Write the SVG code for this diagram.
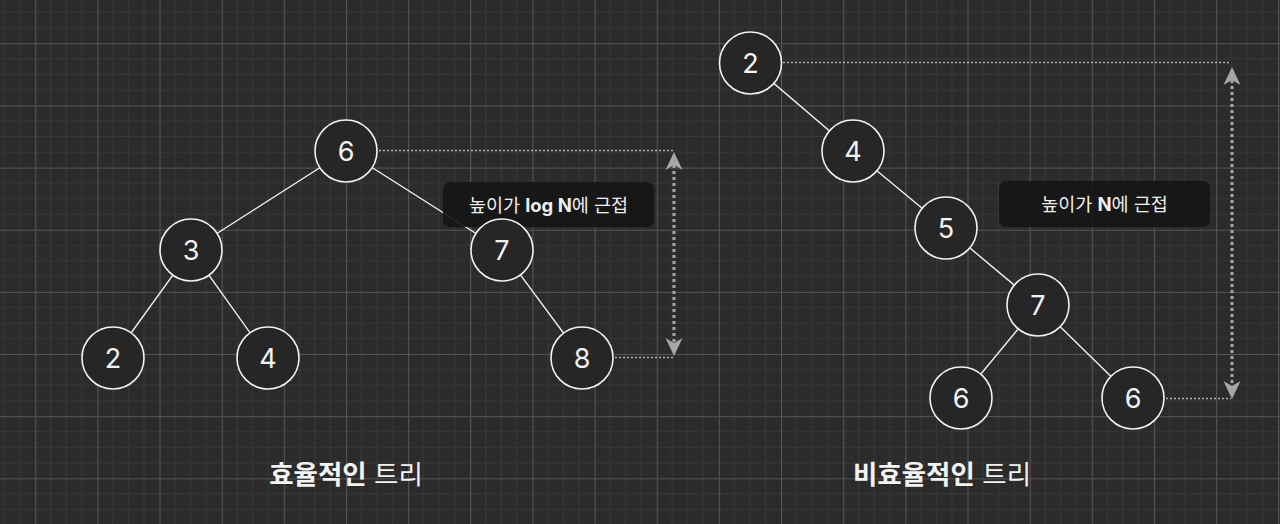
<svg xmlns="http://www.w3.org/2000/svg" width="1280" height="524" viewBox="0 0 1280 524">
  <defs>
    <pattern id="grid" patternUnits="userSpaceOnUse" x="35.2" y="43.3" width="62.15" height="62.15">
      <g stroke="#363636" stroke-width="1.2">
        <line x1="15.54" y1="0" x2="15.54" y2="62.15"/>
        <line x1="31.08" y1="0" x2="31.08" y2="62.15"/>
        <line x1="46.61" y1="0" x2="46.61" y2="62.15"/>
        <line x1="0" y1="15.54" x2="62.15" y2="15.54"/>
        <line x1="0" y1="31.08" x2="62.15" y2="31.08"/>
        <line x1="0" y1="46.61" x2="62.15" y2="46.61"/>
      </g>
      <g stroke="#555555" stroke-width="1.2">
        <line x1="0.5" y1="0" x2="0.5" y2="62.15"/>
        <line x1="0" y1="0.5" x2="62.15" y2="0.5"/>
      </g>
    </pattern>
    <marker id="ah" viewBox="0 0 20 20" refX="5" refY="10" markerWidth="20" markerHeight="20" markerUnits="userSpaceOnUse" orient="auto-start-reverse">
      <path d="M18 10 L0 1.5 L5 10 L0 18.5 Z" fill="#a6a6a8"/>
    </marker>
  </defs>
  <style>
    .node circle { fill: #262626; stroke: #f2f2f2; stroke-width: 1.6; }
    .node text { fill: #f2f2f2; font-family: Inter, "Noto Sans", "Noto Sans CJK KR", sans-serif; font-size: 27px; text-anchor: middle; dominant-baseline: central; }
    .edge { stroke: #f0f0f0; stroke-width: 1.4; }
    .guide { stroke: #b0b0b0; stroke-width: 1.5; stroke-dasharray: 2 2; fill: none; }
    .arrow { stroke: #a6a6a8; stroke-width: 3; stroke-dasharray: 3 3; fill: none; }
    .box { fill: #161616; fill-opacity: 0.92; }
    .lbl { fill: #eeeeee; font-family: Inter, "Noto Sans CJK KR", sans-serif; font-size: 18.5px; text-anchor: middle; dominant-baseline: central; }
    .title { fill: #f2f2f2; font-family: Inter, "Noto Sans CJK KR", sans-serif; font-size: 26.5px; text-anchor: middle; dominant-baseline: central; }
    .b { font-weight: 700; }
  </style>
  <rect width="1280" height="524" fill="#2b2b2b"/>
  <rect width="1280" height="524" fill="url(#grid)"/>

  <g id="connectors">
    <line class="edge" x1="346" y1="151" x2="191" y2="250"/>
    <line class="edge" x1="346" y1="151" x2="502" y2="250"/>
    <line class="edge" x1="191" y1="250" x2="113" y2="358"/>
    <line class="edge" x1="191" y1="250" x2="268" y2="358"/>
    <line class="edge" x1="502" y1="250" x2="582" y2="358"/>
    <line class="edge" x1="750" y1="63" x2="853" y2="151"/>
    <line class="edge" x1="853" y1="151" x2="946" y2="228"/>
    <line class="edge" x1="946" y1="228" x2="1038" y2="305"/>
    <line class="edge" x1="1038" y1="305" x2="961" y2="398"/>
    <line class="edge" x1="1038" y1="305" x2="1133" y2="398"/>
    <line class="guide" x1="379" y1="150.5" x2="673" y2="150.5"/>
    <line class="guide" x1="615" y1="357.5" x2="673" y2="357.5"/>
    <line class="arrow" x1="674" y1="165" x2="674" y2="343" marker-start="url(#ah)" marker-end="url(#ah)"/>
    <line class="guide" x1="783" y1="62.5" x2="1231" y2="62.5"/>
    <line class="guide" x1="1166" y1="398.5" x2="1231" y2="398.5"/>
    <line class="arrow" x1="1232" y1="80" x2="1232" y2="386" marker-start="url(#ah)" marker-end="url(#ah)"/>
  </g>

  <g id="label-left">
    <rect class="box" x="443" y="182" width="211" height="45" rx="7"/>
    <text class="lbl" x="548.5" y="204.5">높이가 <tspan class="b">log N</tspan>에 근접</text>
  </g>
  <g id="label-right">
    <rect class="box" x="999" y="181" width="211" height="46" rx="7"/>
    <text class="lbl" x="1104.5" y="204">높이가 <tspan class="b">N</tspan>에 근접</text>
  </g>

  <g id="n-l6" class="node"><circle cx="346" cy="151" r="31"/><text x="346" y="151">6</text></g>
  <g id="n-l3" class="node"><circle cx="191" cy="250" r="31"/><text x="191" y="250">3</text></g>
  <g id="n-l7" class="node"><circle cx="502" cy="250" r="31"/><text x="502" y="250">7</text></g>
  <g id="n-l2" class="node"><circle cx="113" cy="358" r="31"/><text x="113" y="358">2</text></g>
  <g id="n-l4" class="node"><circle cx="268" cy="358" r="31"/><text x="268" y="358">4</text></g>
  <g id="n-l8" class="node"><circle cx="582" cy="358" r="31"/><text x="582" y="358">8</text></g>

  <g id="n-r2" class="node"><circle cx="750.5" cy="63" r="31"/><text x="750.5" y="63">2</text></g>
  <g id="n-r4" class="node"><circle cx="853" cy="151" r="31"/><text x="853" y="151">4</text></g>
  <g id="n-r5" class="node"><circle cx="946" cy="228" r="31"/><text x="946" y="228">5</text></g>
  <g id="n-r7" class="node"><circle cx="1038" cy="305" r="31"/><text x="1038" y="305">7</text></g>
  <g id="n-r6a" class="node"><circle cx="961" cy="398" r="31"/><text x="961" y="398">6</text></g>
  <g id="n-r6b" class="node"><circle cx="1133" cy="398" r="31"/><text x="1133" y="398">6</text></g>

  <g id="title-left">
    <text class="title" x="346" y="474"><tspan class="b">효율적인</tspan> 트리</text>
  </g>
  <g id="title-right">
    <text class="title" x="942" y="474"><tspan class="b">비효율적인</tspan> 트리</text>
  </g>
</svg>
